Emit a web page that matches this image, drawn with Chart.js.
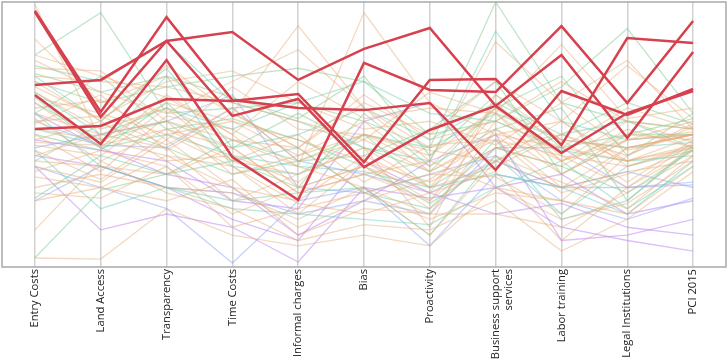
<!DOCTYPE html>
<html>
<head>
<meta charset="utf-8">
<script src="https://cdn.jsdelivr.net/npm/chart.js@4"></script>
<style>
  html, body { margin: 0; padding: 0; background: #fff; }
  #wrap { width: 728px; height: 362px; }
</style>
</head>
<body>
<div id="wrap"><canvas id="pci-chart"></canvas></div>
<script>
// PCI sub-indices, each axis scaled 0-100
const axes = ['Entry Costs', 'Land Access', 'Transparency', 'Time Costs', 'Informal charges', 'Bias',
    'Proactivity', ['Business support', 'services'], 'Labor training', 'Legal Institutions', 'PCI 2015'];

// highlighted provinces
const highlighted = [
    [96.7, 58.5, 94.3, 63.0, 60.0, 59.2, 61.9, 36.6, 66.4, 57.4, 67.2],
    [96.2, 56.6, 85.3, 57.0, 63.4, 37.7, 51.7, 60.8, 43.0, 58.1, 66.4],
    [68.7, 70.6, 85.3, 88.7, 70.6, 82.3, 90.2, 60.8, 80.0, 48.7, 81.1],
    [64.9, 46.4, 78.1, 41.5, 25.3, 77.0, 66.8, 66.0, 90.9, 61.9, 92.8],
    [52.1, 53.2, 63.4, 62.6, 65.3, 39.6, 70.6, 70.9, 46.0, 86.4, 84.5]
];

// other provinces, grouped by region colour
const orangeGroup = [
    [99, 48, 62, 55, 42, 50, 38, 60, 48, 45, 50],
    [86, 62, 72, 58, 91, 60, 45, 52, 40, 55, 47],
    [78, 66, 58, 70, 82, 60, 40, 85, 62, 78, 52],
    [75, 74, 55, 48, 38, 96, 62, 50, 45, 40, 45],
    [72, 70, 68, 62, 55, 48, 66, 58, 84, 56, 60],
    [70, 55, 76, 58, 45, 62, 50, 70, 55, 76, 56],
    [66, 52, 60, 40, 35, 45, 30, 58, 35, 48, 50],
    [64, 58, 50, 55, 48, 40, 32, 45, 50, 42, 54],
    [62, 45, 65, 50, 30, 38, 28, 62, 40, 50, 48],
    [60, 63, 48, 68, 52, 50, 44, 40, 55, 38, 46],
    [58, 50, 55, 35, 42, 55, 36, 50, 30, 45, 50],
    [56, 40, 52, 45, 28, 35, 25, 55, 45, 60, 52],
    [55, 57, 46, 60, 40, 48, 36, 48, 28, 35, 44],
    [52, 48, 42, 30, 25, 42, 30, 38, 50, 40, 49],
    [50, 36, 57, 52, 38, 30, 20, 52, 35, 48, 51],
    [48, 55, 40, 42, 32, 50, 42, 60, 42, 30, 47],
    [46, 42, 60, 48, 45, 28, 35, 34, 20, 42, 53],
    [44, 33, 50, 38, 20, 40, 25, 45, 38, 52, 45],
    [42, 50, 45, 25, 35, 45, 15, 65, 48, 32, 48],
    [40, 38, 35, 45, 28, 35, 40, 30, 25, 45, 50],
    [38, 32, 48, 30, 15, 25, 33, 50, 55, 40, 46],
    [36, 44, 38, 20, 30, 38, 22, 42, 32, 22, 42],
    [34, 30, 42, 38, 24, 20, 28, 36, 10, 30, 44],
    [30, 35, 30, 28, 18, 30, 12, 40, 30, 36, 40],
    [28, 26, 38, 15, 22, 28, 18, 28, 25, 20, 38],
    [25, 30, 25, 33, 12, 22, 20, 20, 15, 28, 42],
    [14, 40, 28, 22, 10, 16, 14, 25, 6, 18, 36],
    [3.4, 3, 22, 12, 8, 12, 8, 30, 18, 24, 40],
    [80, 72, 64, 50, 70, 56, 60, 58, 40, 48, 55],
    [68, 56, 70, 74, 62, 52, 55, 46, 62, 44, 50],
    [54, 65, 44, 58, 45, 65, 48, 55, 70, 55, 52],
    [47, 46, 52, 40, 50, 32, 46, 48, 42, 38, 45]
];
const greenGroup = [
    [80, 96, 58, 60, 62, 55, 45, 100, 62, 55, 52],
    [70, 62, 68, 72, 75, 70, 50, 55, 68, 90, 58],
    [73, 66, 72, 64, 56, 72, 42, 65, 45, 50, 56],
    [3.5, 29, 35, 48, 40, 50, 30, 45, 38, 28, 44],
    [62, 48, 55, 45, 58, 45, 36, 60, 72, 42, 58],
    [58, 72, 52, 56, 48, 38, 24, 40, 50, 62, 54],
    [40, 54, 45, 35, 40, 42, 52, 70, 35, 50, 50],
    [50, 44, 62, 40, 30, 58, 38, 52, 60, 25, 46]
];
const tealGroup = [
    [76, 70, 85, 62, 55, 45, 40, 89, 55, 48, 50],
    [72, 55, 75, 45, 50, 60, 48, 62, 50, 55, 45],
    [66, 50, 60, 52, 62, 70, 58, 55, 44, 40, 42],
    [64, 45, 50, 42, 38, 36, 30, 35, 30, 20, 40],
    [58, 38, 30, 25, 28, 30, 12, 42, 20, 38, 44],
    [26, 42, 35, 40, 45, 28, 22, 48, 18, 25, 45],
    [44, 22, 30, 22, 20, 18, 16, 30, 40, 22, 38],
    [52, 46, 72, 38, 35, 50, 45, 58, 48, 45, 47]
];
const blueGroup = [
    [55, 46, 45, 60, 40, 35, 28, 40, 30, 30, 32],
    [38, 30, 22, 1.5, 25, 30, 8, 35, 30, 36, 30],
    [25, 38, 30, 28, 20, 25, 20, 45, 45, 30, 31],
    [45, 50, 55, 65, 30, 28, 35, 42, 25, 18, 26]
];
const purpleGroup = [
    [58, 45, 35, 30, 12, 25, 40, 50, 10, 12, 18],
    [38, 14, 20, 15, 1.9, 30, 26, 30, 15, 10, 6],
    [42, 38, 30, 18, 10, 40, 28, 20, 24, 15, 12],
    [48, 44, 40, 25, 22, 55, 62, 30, 35, 20, 25]
];

const groups = [
    { rows: orangeGroup, color: 'rgba(228, 170, 120, 0.45)' },
    { rows: greenGroup, color: 'rgba(120, 198, 135, 0.45)' },
    { rows: tealGroup, color: 'rgba(100, 205, 175, 0.45)' },
    { rows: blueGroup, color: 'rgba(135, 160, 240, 0.45)' },
    { rows: purpleGroup, color: 'rgba(185, 130, 240, 0.5)' }
];

const datasets = [];
groups.forEach(g => {
    g.rows.forEach(row => {
        datasets.push({
            data: row,
            borderColor: g.color,
            borderWidth: 1.3,
            order: 1
        });
    });
});
highlighted.forEach(row => {
    datasets.push({
        data: row,
        borderColor: '#d7404e',
        borderWidth: 2.5,
        order: 0
    });
});

// grey frame round the plot area
const framePlugin = {
    id: 'frame',
    beforeDatasetsDraw(chart) {
        const { ctx, chartArea: a } = chart;
        ctx.save();
        ctx.strokeStyle = '#a9a9a9';
        ctx.lineWidth = 1.5;
        ctx.strokeRect(a.left, a.top, a.right - a.left, a.bottom - a.top);
        ctx.restore();
    }
};

new Chart(document.getElementById('pci-chart'), {
    type: 'line',
    data: { labels: axes, datasets },
    options: {
        responsive: true,
        maintainAspectRatio: false,
        animation: false,
        layout: { padding: { top: 2, left: 2, right: 2, bottom: 0 } },
        elements: {
            point: { radius: 0, hoverRadius: 0 },
            line: { tension: 0, borderJoinStyle: 'miter' }
        },
        plugins: {
            legend: { display: false },
            tooltip: { enabled: false }
        },
        scales: {
            x: {
                offset: true,
                grid: { color: '#d2d2d2', lineWidth: 1.5, drawTicks: false, offset: false },
                border: { display: false },
                ticks: {
                    autoSkip: false,
                    minRotation: 90,
                    maxRotation: 90,
                    padding: 2,
                    color: '#222',
                    font: { family: 'Open Sans', size: 11.2 }
                },
                afterFit(scale) { scale.height = 95; }
            },
            y: { display: false, min: 0, max: 100 }
        }
    },
    plugins: [framePlugin]
});
</script>
</body>
</html>
